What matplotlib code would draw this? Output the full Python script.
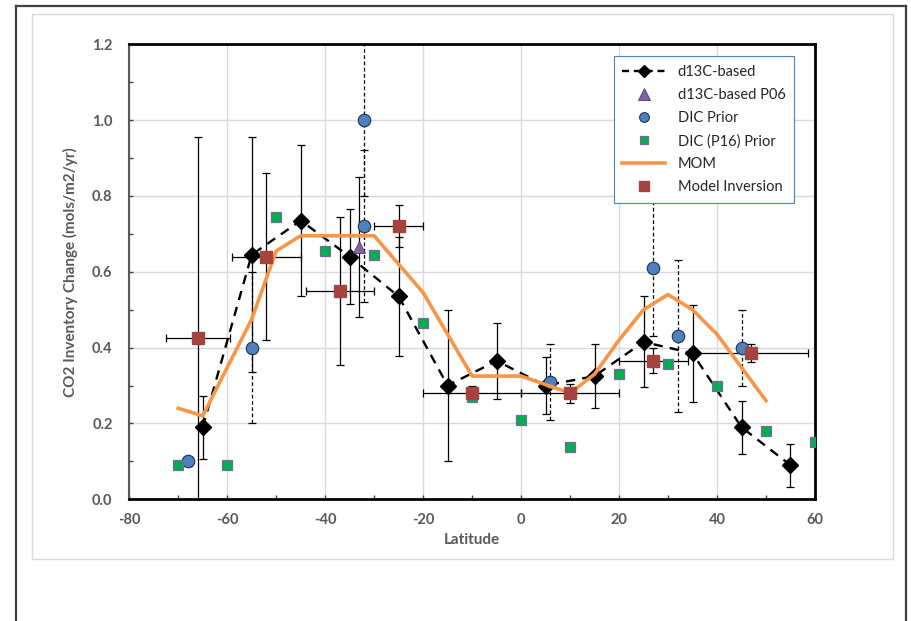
import matplotlib
matplotlib.use('Agg')
import matplotlib.pyplot as plt
from matplotlib.lines import Line2D
from matplotlib import font_manager

plt.rcParams['font.family'] = ['Lato', 'DejaVu Sans']
print(sorted(set((f.name, f.weight) for f in font_manager.fontManager.ttflist if f.name in ('Lato', 'Open Sans', 'Noto Sans', 'Roboto'))))

# d13C-based estimates
lat_d13c = [-65, -55, -45, -35, -25, -15, -5, 5, 15, 25, 35, 45, 55]
d13c = [0.19, 0.645, 0.735, 0.64, 0.535, 0.30, 0.365, 0.30, 0.325, 0.415, 0.385, 0.19, 0.09]
d13c_err = [0.083, 0.31, 0.20, 0.125, 0.157, 0.20, 0.10, 0.075, 0.085, 0.12, 0.128, 0.07, 0.057]

# d13C-based P06
lat_p06 = [-33]
p06 = [0.665]
p06_err = [0.185]

# DIC prior
lat_dic = [-68, -55, -32, -32, 6, 27, 32, 45]
dic = [0.10, 0.40, 1.0, 0.72, 0.31, 0.61, 0.43, 0.40]
dic_err = [0.012, 0.2, 0.2, 0.2, 0.1, 0.18, 0.2, 0.1]

# DIC (P16) prior
lat_p16 = [-70, -60, -50, -40, -30, -20, -10, 0, 10, 20, 30, 40, 50, 60]
p16 = [0.09, 0.09, 0.745, 0.655, 0.643, 0.465, 0.27, 0.21, 0.137, 0.33, 0.358, 0.30, 0.18, 0.15]

# MOM
lat_mom = [-70, -65, -55, -50, -45, -30, -20, -10, 0, 10, 15, 20, 25, 30, 35, 40, 50]
mom = [0.24, 0.22, 0.475, 0.655, 0.695, 0.695, 0.545, 0.325, 0.325, 0.28, 0.33, 0.42, 0.50, 0.54, 0.50, 0.435, 0.26]

# Model inversion
lat_inv = [-66, -52, -37, -25, -10, 10, 27, 47]
inv = [0.425, 0.64, 0.55, 0.72, 0.28, 0.28, 0.365, 0.385]
inv_yerr = [0.53, 0.22, 0.195, 0.055, 0.02, 0.025, 0.033, 0.024]
inv_xerr = [6.6, 7, 7, 5, 10, 10, 7, 11.5]

x_ticks = [-80, -60, -40, -20, 0, 20, 40, 60]
y_ticks = [0.0, 0.2, 0.4, 0.6, 0.8, 1.0, 1.2]

c_tri = '#8064A2'
c_dic = '#4F81BD'
c_p16 = '#00B050'
c_mom = '#F79646'
c_inv = '#A5443F'
c_text = '#595959'

fig = plt.figure(figsize=(9.11, 6.21), dpi=100)
ax = fig.add_axes([0.1419, 0.196, 0.7527, 0.7327])

# frames around the chart
fig.add_artist(Line2D([0.0176, 0.0176], [-0.1, 0.990], transform=fig.transFigure, color='#404040', lw=1.6))
fig.add_artist(Line2D([0.0176, 0.9945], [0.990, 0.990], transform=fig.transFigure, color='#404040', lw=1.6))
fig.add_artist(Line2D([0.9945, 0.9945], [-0.1, 0.990], transform=fig.transFigure, color='#404040', lw=1.6))
fig.add_artist(plt.Rectangle((31.7 / 911, 1 - 559.3 / 621), (893.3 - 31.7) / 911, (559.3 - 14.3) / 621,
                             transform=fig.transFigure, fill=False, ec='#D9D9D9', lw=1))

# error bars
eb = ax.errorbar(lat_d13c, d13c, yerr=d13c_err, fmt='none', ecolor='black', elinewidth=0.9, capsize=3, capthick=0.9, zorder=2)
eb = ax.errorbar(lat_p06, p06, yerr=p06_err, fmt='none', ecolor='black', elinewidth=0.9, capsize=3, capthick=0.9, zorder=2)
eb = ax.errorbar(lat_dic, dic, yerr=dic_err, fmt='none', ecolor='black', elinewidth=0.9, capsize=3, capthick=0.9, zorder=2)
eb[2][0].set_linestyle((0, (3, 2)))
eb = ax.errorbar(lat_inv, inv, yerr=inv_yerr, xerr=inv_xerr, fmt='none', ecolor='black', elinewidth=0.9, capsize=3, capthick=0.9, zorder=2)

# series
ax.plot(lat_d13c, d13c, color='black', ls=(0, (4, 3)), lw=1.7, marker='D', markersize=8.5, zorder=3)
ax.plot(lat_p06, p06, ls='none', marker='^', markersize=9, color=c_tri, mec='#4B3A6B', mew=0.6, zorder=4)
ax.plot(lat_dic, dic, ls='none', marker='o', markersize=9, color=c_dic, mec='#1F3050', mew=0.8, zorder=4)
ax.plot(lat_p16, p16, ls='none', marker='s', markersize=6.5, color=c_p16, mec=c_tri, mew=0.9, zorder=4)
ax.plot(lat_mom, mom, color=c_mom, lw=2.6, zorder=5)
ax.plot(lat_inv, inv, ls='none', marker='s', markersize=8, color=c_inv, mec=c_inv, zorder=6)

ax.set_xlim(-80, 60)
ax.set_ylim(0, 1.2)
ax.set_xticks(x_ticks)
ax.set_xticklabels([str(v) for v in x_ticks], fontweight='bold', color=c_text, fontsize=10.5)
ax.set_xticks([-70, -50, -30, -10, 10, 30, 50], minor=True)
ax.set_yticks(y_ticks)
ax.set_yticklabels(['%.1f' % v for v in y_ticks], fontweight='bold', color=c_text, fontsize=10.5)
ax.set_yticks([0.1, 0.3, 0.5, 0.7, 0.9, 1.1], minor=True)
ax.grid(True, which='major', color='#D9D9D9', lw=1)
ax.set_axisbelow(True)
ax.tick_params(which='both', direction='in', length=3, width=1, color='#404040')
ax.tick_params(axis='x', pad=10)
ax.tick_params(axis='y', pad=12)

for side in ['top', 'right', 'bottom']:
	ax.spines[side].set_color('black')
	ax.spines[side].set_linewidth(2)
ax.spines['left'].set_color('#595959')
ax.spines['left'].set_linewidth(1.5)

ax.set_xlabel('Latitude', fontsize=11, fontweight='bold', color=c_text, labelpad=4)
ax.set_ylabel('CO2 Inventory Change (mols/m2/yr)', fontsize=11, fontweight='bold', color=c_text, labelpad=10)

handles = [
	Line2D([], [], color='black', ls=(0, (3, 2)), lw=1.7, marker='D', markersize=6),
	Line2D([], [], ls='none', marker='^', markersize=8, color=c_tri, mec='#4B3A6B', mew=0.6),
	Line2D([], [], ls='none', marker='o', markersize=7, color=c_dic, mec='#1F3050', mew=0.8),
	Line2D([], [], ls='none', marker='s', markersize=6, color=c_p16, mec=c_tri, mew=0.9),
	Line2D([], [], color=c_mom, lw=2.6),
	Line2D([], [], ls='none', marker='s', markersize=7, color=c_inv, mec=c_inv),
]
labels = ['d13C-based', 'd13C-based P06', 'DIC Prior', 'DIC (P16) Prior', 'MOM', 'Model Inversion']
legend = ax.legend(handles, labels, loc='upper right', bbox_to_anchor=(0.970, 0.974), borderaxespad=0,
                   fontsize=10.5, frameon=True, fancybox=False, framealpha=1, edgecolor=c_dic,
                   handlelength=2.9, labelspacing=0.62, borderpad=0.6, handletextpad=0.9)
legend.get_frame().set_linewidth(0.8)
for t in legend.get_texts():
	t.set_color('#262626')

plt.savefig('out.png', dpi=100)
plt.close()
